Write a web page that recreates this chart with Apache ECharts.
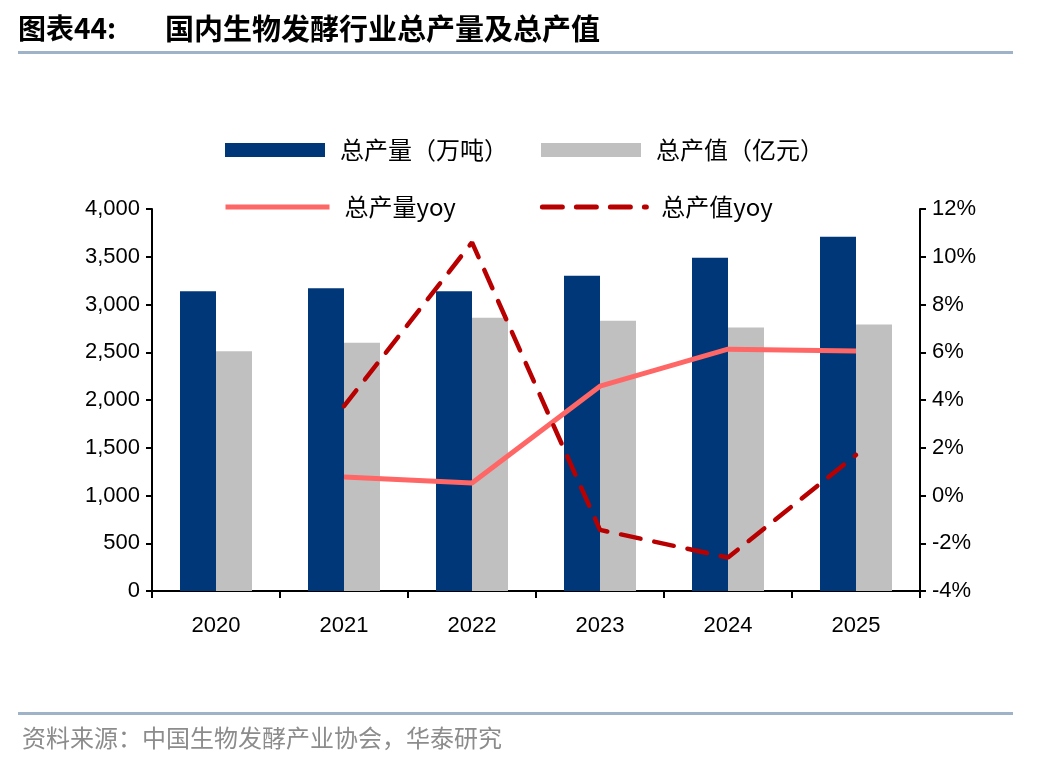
<!DOCTYPE html>
<html>
<head>
<meta charset="utf-8">
<script src="https://cdn.jsdelivr.net/npm/echarts@6/dist/echarts.min.js"></script>
<style>
  html, body { margin: 0; padding: 0; background: #fff; }
  #chart { width: 1048px; height: 764px; }
</style>
</head>
<body>
<div id="chart"></div>
<script>
// values
const years = ['2020', '2021', '2022', '2023', '2024', '2025'];
const output = [3140, 3170, 3140, 3300, 3490, 3710];      // 总产量（万吨）
const value = [2510, 2600, 2860, 2830, 2760, 2790];       // 总产值（亿元）
const outputYoy = [null, 0.77, 0.52, 4.58, 6.13, 6.05];   // 总产量yoy, %
const valueYoy = [null, 3.74, 10.6, -1.44, -2.6, 1.7];     // 总产值yoy, %

const CJK = '"Noto Sans CJK SC", sans-serif';
const NUM = '"Liberation Sans", Arial, sans-serif';
const RULE = '#9fb3c8';

const axisLine = { show: true, lineStyle: { color: '#000', width: 2 } };
const axisTick = { show: true, length: 6, lineStyle: { color: '#000', width: 2 } };

const chart = echarts.init(document.getElementById('chart'), null, { renderer: 'canvas' });

chart.setOption({
  animation: false,
  grid: { left: 152, right: 128, top: 209, bottom: 173, containLabel: false },
  legend: [
    {
      data: ['总产量（万吨）', '总产值（亿元）'],
      left: 220, top: 133,
      itemWidth: 100, itemHeight: 14, itemGap: 33,
      icon: 'rect',
      textStyle: { fontFamily: CJK, fontSize: 24, color: '#000', padding: [0, 0, 0, 10] },
    },
    {
      data: ['总产量yoy', '总产值yoy'],
      left: 218, top: 190,
      itemWidth: 104, itemHeight: 14, itemGap: 84,
      itemStyle: { opacity: 0 },
      lineStyle: { width: 5 },
      textStyle: { fontFamily: CJK, fontSize: 24, color: '#000', padding: [0, 0, 0, 10] },
    },
  ],
  xAxis: {
    type: 'category',
    data: years,
    axisLine, axisTick: { ...axisTick, length: 7 },
    axisLabel: { fontFamily: NUM, fontSize: 22, color: '#000', margin: 24 },
  },
  yAxis: [
    {
      type: 'value', min: 0, max: 4000, interval: 500,
      axisLine, axisTick,
      splitLine: { show: false },
      axisLabel: {
        fontFamily: NUM, fontSize: 22, color: '#000', margin: 12,
        formatter: (v) => v.toLocaleString('en-US'),
      },
    },
    {
      type: 'value', min: -4, max: 12, interval: 2,
      axisLine, axisTick,
      splitLine: { show: false },
      axisLabel: { fontFamily: NUM, fontSize: 22, color: '#000', margin: 12, formatter: '{value}%' },
    },
  ],
  series: [
    {
      name: '总产量（万吨）', type: 'bar', data: output,
      barWidth: 36, barGap: '0%',
      itemStyle: { color: '#003778' },
    },
    {
      name: '总产值（亿元）', type: 'bar', data: value,
      barWidth: 36, barGap: '0%',
      itemStyle: { color: '#c0c0c0' },
    },
    {
      name: '总产量yoy', type: 'line', yAxisIndex: 1, data: outputYoy,
      symbol: 'none', z: 5,
      lineStyle: { color: '#ff6666', width: 5 },
      itemStyle: { color: '#ff6666' },
    },
    {
      name: '总产值yoy', type: 'line', yAxisIndex: 1, data: valueYoy,
      symbol: 'none', z: 6,
      lineStyle: { color: '#b80000', width: 4.5, type: [20, 14], cap: 'round' },
      itemStyle: { color: '#b80000' },
    },
  ],
  graphic: [
    {
      type: 'text', left: 18, top: 14,
      style: { text: '图表44:', font: 'bold 28px ' + CJK, fill: '#000' },
    },
    {
      type: 'text', left: 165, top: 14,
      style: { text: '国内生物发酵行业总产量及总产值', font: 'bold 29px ' + CJK, fill: '#000' },
    },
    {
      type: 'rect', shape: { x: 18, y: 51, width: 995, height: 3 },
      style: { fill: RULE },
    },
    {
      type: 'rect', shape: { x: 18, y: 712, width: 995, height: 3 },
      style: { fill: RULE },
    },
    {
      type: 'text', left: 22, top: 726,
      style: { text: '资料来源：中国生物发酵产业协会，华泰研究', font: '24px ' + CJK, fill: '#8c8c8c' },
    },
  ],
});
</script>
</body>
</html>
